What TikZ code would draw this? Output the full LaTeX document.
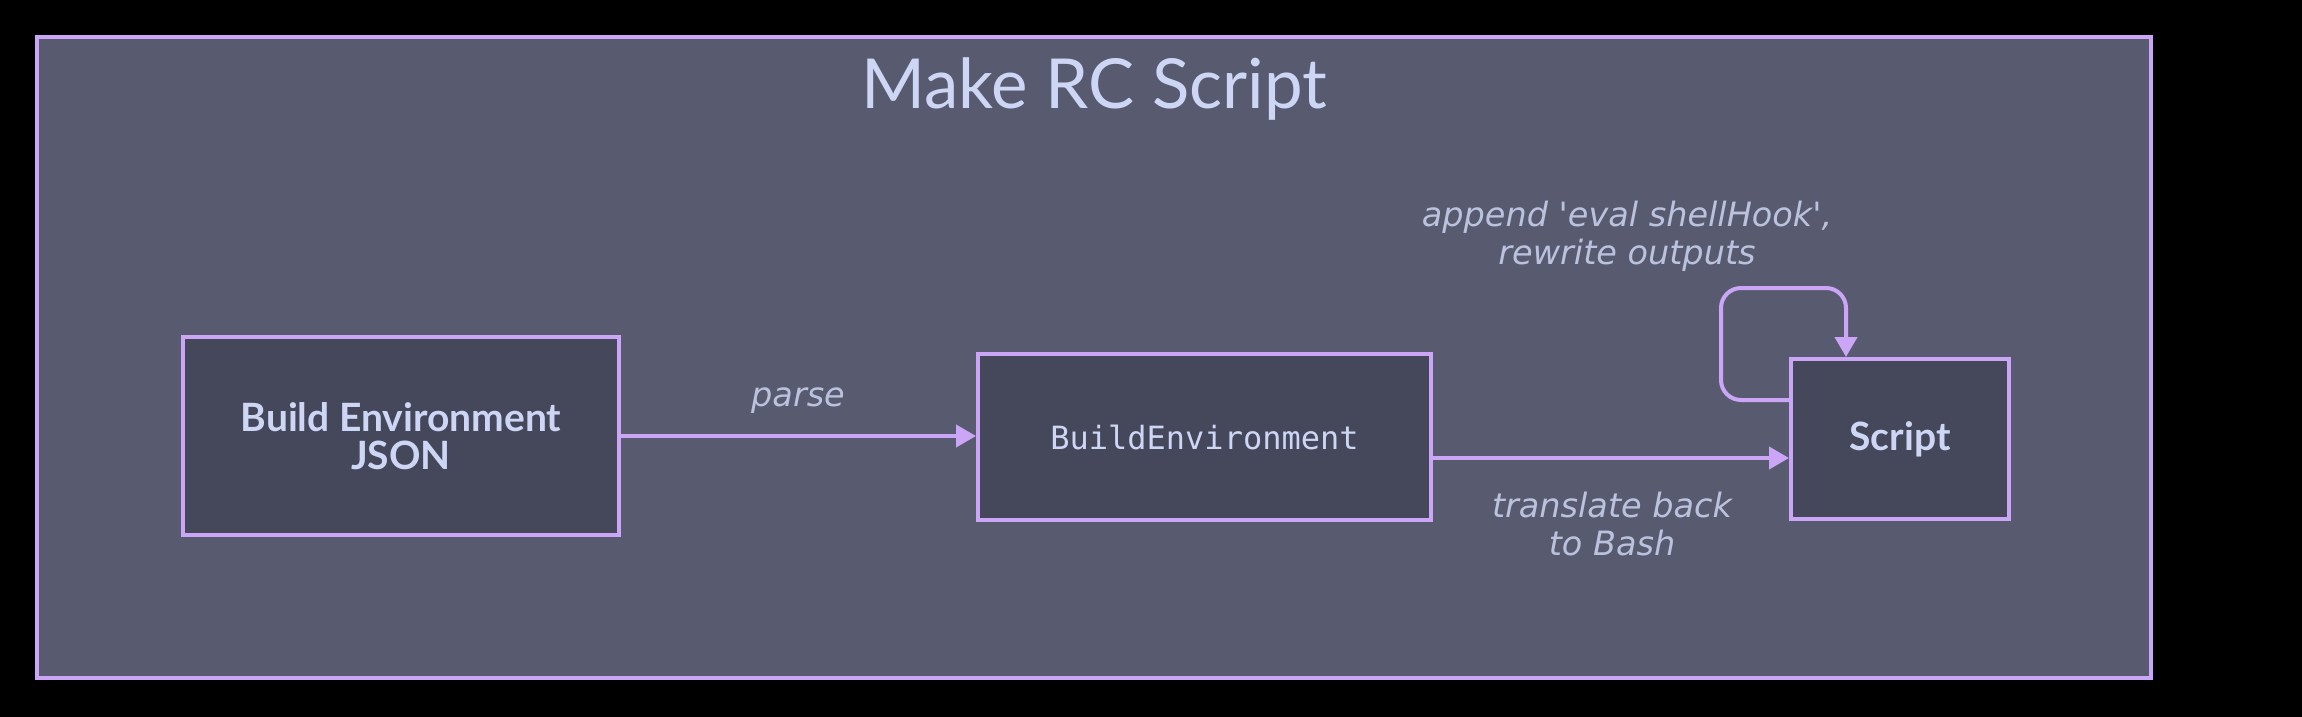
\documentclass[tikz,border=0pt]{standalone}
\usepackage{fontspec}
\setmainfont{Lato}
\setmonofont{DejaVu Sans Mono}
\newfontfamily\labelfont{DejaVu Sans}
\usetikzlibrary{arrows.meta}
\definecolor{mauve}{HTML}{CBA6F7}
\definecolor{surftwo}{HTML}{585B70}
\definecolor{surfone}{HTML}{45475A}
\definecolor{txt}{HTML}{CDD6F4}
\definecolor{subtxt}{HTML}{BAC2DE}
\tikzset{
  boxnode/.style={draw=mauve, line width=4pt, fill=surfone, inner sep=0pt, text=txt, align=center},
  conn/.style={draw=mauve, line width=4pt, -{Triangle[length=20pt,width=22pt]}},
  elabel/.style={text=subtxt, font=\labelfont\fontsize{33.5}{38}\selectfont\itshape, align=center, inner sep=0pt},
}
\begin{document}
\begin{tikzpicture}[x=1pt,y=-1pt]
\fill[black] (0,0) rectangle (2302,717);
\useasboundingbox (0,0) rectangle (2302,717);
\node[draw=mauve, line width=4pt, fill=surftwo, inner sep=0pt, minimum width=2114pt, minimum height=641pt] (frame) at (1094,357.5) {};
\node[text=txt, font=\fontsize{69}{72}\selectfont, inner sep=0pt] (title) at (1094,89) {Make RC Script};
\node[boxnode, minimum width=436pt, minimum height=198pt, font=\fontsize{39}{38}\selectfont\bfseries] (n1) at (401,436) {Build Environment\\JSON};
\node[boxnode, minimum width=453pt, minimum height=166pt, font=\fontsize{32}{38}\selectfont\ttfamily] (n2) at (1204.5,437) {BuildEnvironment};
\node[boxnode, minimum width=218pt, minimum height=160pt, font=\fontsize{39}{38}\selectfont\bfseries] (n3) at (1900,439) {Script};
\coordinate (a2) at (0,458);
\coordinate (l1) at (1721,400);
\coordinate (l2) at (1721,288);
\coordinate (l3) at (1846,288);
\draw[conn] (n1.east) -- (n1.east -| n2.west);
\draw[conn] (n2.east |- a2) -- (n3.west |- a2);
\draw[conn, rounded corners=20pt] (n3.west |- l1) -- (l1) -- (l2) -- (l3) -- (l3 |- n3.north);
\node[elabel] (lparse) at (798,401) {parse};
\node[elabel] (ltrans) at (1612,524) {translate back\\to Bash};
\node[elabel] (lapp) at (1627,236) {append 'eval shellHook',\\rewrite outputs};
\end{tikzpicture}
\end{document}
